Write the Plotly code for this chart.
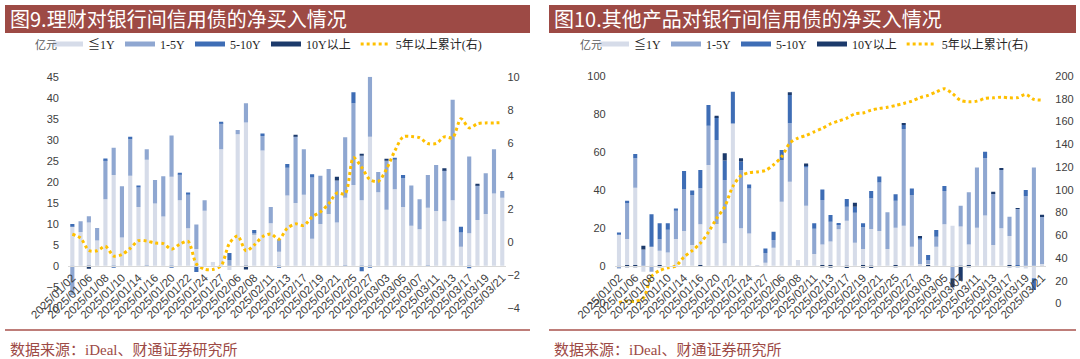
import plotly.graph_objects as go

# ---------------- data ----------------
dates = ["2025/01/02","2025/01/03","2025/01/06","2025/01/07","2025/01/08","2025/01/09","2025/01/10",
         "2025/01/13","2025/01/14","2025/01/15","2025/01/16","2025/01/17","2025/01/20","2025/01/21",
         "2025/01/22","2025/01/23","2025/01/24","2025/01/26","2025/01/27","2025/02/05","2025/02/06",
         "2025/02/07","2025/02/08","2025/02/10","2025/02/11","2025/02/12","2025/02/13","2025/02/14",
         "2025/02/17","2025/02/18","2025/02/19","2025/02/20","2025/02/21","2025/02/24","2025/02/25",
         "2025/02/26","2025/02/27","2025/02/28","2025/03/03","2025/03/04","2025/03/05","2025/03/06",
         "2025/03/07","2025/03/10","2025/03/11","2025/03/12","2025/03/13","2025/03/14","2025/03/17",
         "2025/03/18","2025/03/19","2025/03/20","2025/03/21"]
tick_labels = dates[::2]

series_names = ["≦1Y", "1-5Y", "5-10Y", "10Y以上"]
line_name = "5年以上累计(右)"

# Figure 9: wealth management products (亿元)
wm_le1 = [9.5, 8.0, 10.3, 6.0, 15.8, 21.6, 6.7, 21.4, 14.0, 25.2, 14.8, 11.7, 21.2, 15.6, 8.9, 4.0, 13.1, 0.9,
          27.7, -1.0, 31.3, 34.1, 7.5, 27.4, 10.1, 3.3, 16.7, 14.9, 16.9, 6.4, 9.9, 12.3, 10.3, 16.2, 19.2,
          15.6, 30.7, 17.5, 13.3, 18.2, 14.0, 9.5, 8.7, 13.8, 13.0, 10.6, 15.6, 4.5, 7.7, 10.9, 12.3, 17.2, 16.2]
wm_1_5 = [-7.0, 2.6, 1.5, 3.0, 9.4, 6.5, 12.2, 8.7, 4.6, 2.5, 5.6, 9.6, 9.8, 6.2, 8.0, 5.8, 2.5, 0.0,
          6.3, 1.3, 1.0, 4.6, 0.3, 3.5, 3.9, 3.0, 6.6, 15.9, 10.8, 14.6, 11.5, 10.7, 10.0, 14.4, 19.5,
          10.6, 14.3, 4.8, 11.7, 7.0, 6.8, 9.6, 7.1, 7.8, 11.0, 12.2, 23.9, 3.4, 18.3, 8.3, 9.7, 10.5, 1.6]
wm_5_10 = [0.4, 0.0, 0.0, 0.0, 0.3, -0.5, 0.0, 0.6, 0.5, -0.2, 0.0, 0.0, -0.3, 0.2, 0.5, -1.5, 0.0, 0.0,
           0.3, 1.7, 0.0, 0.0, 0.7, 0.6, 0.0, -0.3, 0.9, 0.0, 0.0, 0.8, 0.0, 0.0, 0.0, -0.2, 2.6,
           -1.3, -0.4, 0.0, 0.0, 0.5, 0.8, 0.0, 0.0, -0.2, 0.0, 0.0, 0.0, 1.4, -0.6, 0.0, 0.0, 0.0, 0.0]
wm_10p = [0.0, 0.0, -0.7, 0.0, 0.0, 0.0, 0.0, 0.0, 0.0, 0.0, 0.0, 0.0, 0.0, 0.0, 0.0, 0.0, 0.0, 0.0,
          0.0, 0.0, 0.0, -0.9, 0.0, 0.0, 0.0, 0.0, 0.0, 0.3, 0.0, 0.0, 0.0, 0.0, 0.9, 0.0, 0.0,
          0.3, 0.0, 0.0, 0.3, 0.0, 0.0, 0.0, 0.0, 0.0, 0.0, 0.4, 0.0, 0.0, 0.0, 0.3, 0.0, 0.0, 0.0]
wm_cum5 = [0.45, 0.22, -0.53, -0.55, -0.28, -0.87, -0.78, -0.40, 0.06, 0.04, -0.08, -0.12, -0.45, -0.15,
           0.02, -1.35, -1.67, -1.68, -1.45, -0.10, 0.35, -0.55, -0.20, 0.30, 0.47, 0.15, 0.82, 1.08,
           0.98, 1.50, 1.80, 2.30, 2.95, 2.90, 5.10, 4.50, 3.76, 3.65, 4.40, 5.50, 6.35, 6.38, 6.30,
           5.95, 5.95, 6.35, 6.30, 7.45, 6.90, 7.15, 7.20, 7.20, 7.22]

# Figure 10: other products (亿元)
op_le1 = [16.3, 14.1, 41.1, -3.2, 10.0, 7.9, 6.9, 14.1, 18.3, 10.9, 21.8, 53.1, 22.0, 11.8, 75.0, 19.7, 17.0,
          0.3, 1.5, 9.5, 33.7, 44.3, 3.0, 31.6, 6.2, 11.2, 12.7, 19.2, 23.7, 12.1, 8.8, 19.3, 18.3, 8.8,
          20.0, 21.1, 10.0, 0.9, 0.9, 10.0, 21.8, 21.1, 20.6, 11.2, 20.0, 26.4, 10.9, 19.7, 15.6, 0.0,
          -1.5, -6.7, 0.9]
op_1_5 = [-1.5, 19.2, 15.5, 8.5, -3.2, 6.0, 12.0, 14.9, 22.1, 26.4, 19.0, 20.7, 44.3, 33.4, 0.0, 30.8, 23.7,
          0.0, 5.2, 4.0, 22.0, 30.8, 0.0, 20.2, 13.2, 23.4, 10.5, 2.5, 7.4, 15.8, 11.4, 16.2, 25.5, 19.3,
          14.2, 51.0, 27.2, 12.7, 2.1, 5.3, 17.6, -6.7, 11.0, 27.5, 31.8, 30.2, 27.2, 30.8, 10.2, 29.9,
          36.7, 51.8, 25.0]
op_5_10 = [1.2, 0.9, 2.3, 0.0, 17.1, 8.4, 3.5, 1.2, 9.5, 2.3, 9.7, 10.9, 11.8, 10.2, 16.7, 4.4, 2.1,
           0.0, 2.4, 4.4, 5.3, 14.9, 0.0, 1.1, 3.0, 5.6, 3.5, 0.3, 4.0, 3.2, 2.1, 3.9, 3.2, 0.0,
           3.5, 2.1, 3.5, 1.4, 2.6, 3.5, 2.6, 0.0, 0.0, 0.0, 0.0, 3.5, 0.0, 0.0, 0.0, -0.8,
           3.2, -6.1, 0.0]
op_10p = [0.0, -0.8, -0.8, 2.0, 0.0, -0.8, 0.0, 0.0, 0.0, 0.0, -0.7, 0.0, 0.9, 3.9, 0.0, 1.8, 0.0,
          0.0, 0.0, 0.0, 0.0, 1.4, 0.0, 1.0, 0.0, -0.8, -1.0, 0.0, -1.2, 2.1, -1.0, -1.2, 0.0, 0.0,
          -0.8, 0.9, 0.0, 0.7, -0.5, 0.0, 0.0, -4.7, -8.0, -0.9, 0.0, 0.0, 0.9, 0.9, -0.8, 0.4,
          0.0, 0.0, 0.9]
op_cum5 = [1, 2, 2, 5, 24, 29, 31.5, 33, 41, 46.5, 53, 62.8, 74.8, 85.1, 103, 112.5, 115, 115.7, 117,
           122, 129, 141, 145.5, 147.8, 151, 154, 158, 160.5, 163, 166.8, 167.5, 170, 171.5, 172.5,
           174.1, 175.9, 178, 181, 183, 186, 188.8, 184.5, 178.5, 177.4, 177.9, 180.3, 180.8, 181.4,
           180.8, 181, 183.8, 179.5, 178.8]

titles = ["图9.理财对银行间信用债的净买入情况", "图10.其他产品对银行间信用债的净买入情况"]
source_text = "数据来源：iDeal、财通证券研究所"
unit_text = "亿元"

# ---------------- styles ----------------
W, H = 1080, 359
def px(x): return x / W
def py(y): return 1 - y / H

bar_colors = ["#D6DCE9", "#8FA7D1", "#3E6DB5", "#1C3A6B"]
line_color = "#FFC000"
banner_color = "#9D4A45"
tick_font = dict(family="Liberation Sans, Arial, sans-serif", size=11, color="#404040")
legend_font = dict(family="Liberation Serif, Noto Sans CJK SC, serif", size=12, color="#262626")
cjk = "Noto Sans CJK SC, sans-serif"

fig = go.Figure()

panels = [
    dict(x="x", y="y", y2="y2", legend="legend",
         vals=[wm_le1, wm_1_5, wm_5_10, wm_10p], cum=wm_cum5),
    dict(x="x2", y="y3", y2="y4", legend="legend2",
         vals=[op_le1, op_1_5, op_5_10, op_10p], cum=op_cum5),
]

for p in panels:
    for name, vals, col in zip(series_names, p["vals"], bar_colors):
        fig.add_trace(go.Bar(x=dates, y=vals, name=name, marker=dict(color=col, line=dict(width=0)),
                             xaxis=p["x"], yaxis=p["y"], showlegend=False))
    fig.add_trace(go.Scatter(x=dates, y=p["cum"], name=line_name, mode="lines",
                             line=dict(color=line_color, width=3, dash="3px,3px", shape="spline", smoothing=0.8),
                             xaxis=p["x"], yaxis=p["y2"], showlegend=False))
    # legend entries (drawn as thick line swatches, like the original)
    for name, col in zip(series_names, bar_colors):
        fig.add_trace(go.Scatter(x=[None], y=[None], name=name, mode="lines",
                                 line=dict(color=col, width=5), xaxis=p["x"], yaxis=p["y"],
                                 legend=p["legend"], showlegend=True))
    fig.add_trace(go.Scatter(x=[None], y=[None], name=line_name, mode="lines",
                             line=dict(color=line_color, width=3, dash="3px,3px"),
                             xaxis=p["x"], yaxis=p["y2"], legend=p["legend"], showlegend=True))

xcommon = dict(type="category", categoryorder="array", categoryarray=dates,
               tickmode="array", tickvals=tick_labels, ticktext=tick_labels, tickangle=-45,
               tickfont=dict(family="Liberation Sans, Arial, sans-serif", size=11.5, color="#404040"),
               showline=True, linecolor="#D9D9D9", linewidth=1, ticks="", showgrid=False,
               zeroline=False, range=[-0.5, len(dates) - 0.5], anchor="free", position=py(265.7),
               automargin=False)
ycommon = dict(showgrid=False, zeroline=False, showline=False, tickfont=tick_font, automargin=False)

fig.update_layout(
    template="none",
    width=W, height=H, autosize=False,
    margin=dict(l=0, r=0, t=0, b=0, pad=0),
    paper_bgcolor="white", plot_bgcolor="white",
    barmode="relative", bargap=0.5,
    xaxis=dict(domain=[px(68.2), px(506.4)], **xcommon),
    xaxis2=dict(domain=[px(614.9), px(1046.1)], **xcommon),
    yaxis=dict(domain=[py(307.7), py(76.7)], range=[-10, 45], dtick=5, anchor="x",
               ticks="outside", ticklen=6, tickcolor="rgba(0,0,0,0)", **ycommon),
    yaxis2=dict(domain=[py(307.7), py(76.7)], range=[-4, 10], dtick=2, anchor="x",
                overlaying="y", side="right", ticks="", **ycommon),
    yaxis3=dict(domain=[py(303.6), py(76.0)], range=[-20, 100], dtick=20, anchor="x2",
                ticks="outside", ticklen=6, tickcolor="rgba(0,0,0,0)", **ycommon),
    yaxis4=dict(domain=[py(303.6), py(76.0)], range=[0, 200], dtick=20, anchor="x2",
                overlaying="y3", side="right", ticks="outside", ticklen=6,
                tickcolor="rgba(0,0,0,0)", **ycommon),
    legend=dict(orientation="h", x=px(48), y=py(44), xanchor="left", yanchor="middle",
                font=legend_font, bgcolor="rgba(0,0,0,0)", itemwidth=30, borderwidth=0),
    legend2=dict(orientation="h", x=px(594), y=py(44), xanchor="left", yanchor="middle",
                 font=legend_font, bgcolor="rgba(0,0,0,0)", itemwidth=30, borderwidth=0),
    showlegend=True,
)

shapes = []
annotations = []
for (x0, x1), title in zip([(5, 530), (549, 1076)], titles):
    shapes.append(dict(type="rect", xref="paper", yref="paper", x0=px(x0), x1=px(x1),
                       y0=py(33), y1=py(5), fillcolor=banner_color, line=dict(width=0), layer="below"))
    shapes.append(dict(type="line", xref="paper", yref="paper", x0=px(x0), x1=px(x1),
                       y0=py(330), y1=py(330), line=dict(color="#A8524C", width=1.5)))
    annotations.append(dict(text=title, xref="paper", yref="paper", x=px(x0 + 3), y=py(19),
                            xanchor="left", yanchor="middle", showarrow=False,
                            font=dict(family=cjk, size=20, color="white")))
    annotations.append(dict(text=source_text, xref="paper", yref="paper", x=px(x0 + 3), y=py(350),
                            xanchor="left", yanchor="middle", showarrow=False,
                            font=dict(family="Liberation Serif, Noto Sans CJK SC, serif", size=15,
                                      color=banner_color)))
for ux in [33, 578]:
    annotations.append(dict(text=unit_text, xref="paper", yref="paper", x=px(ux), y=py(44),
                            xanchor="left", yanchor="middle", showarrow=False,
                            font=dict(family=cjk, size=11, color="#595959")))

fig.update_layout(shapes=shapes, annotations=annotations)
fig.write_html("out.html", config={"displayModeBar": False},
               post_script="document.body.style.margin='0px';document.body.style.overflow='hidden';")
